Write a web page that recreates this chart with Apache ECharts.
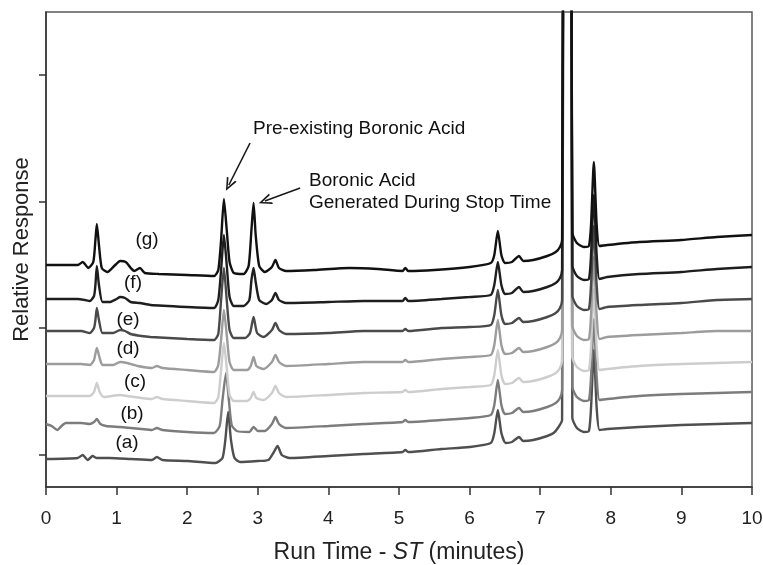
<!DOCTYPE html>
<html>
<head>
<meta charset="utf-8">
<script src="https://cdn.jsdelivr.net/npm/echarts@6/dist/echarts.min.js"></script>
<style>
html, body { margin: 0; padding: 0; background: #fff; }
#chart { width: 763px; height: 565px; }
</style>
</head>
<body>
<div id="chart"></div>
<script>
// run time (min) vs relative response (arbitrary units, traces stacked with offsets)
var traceA = [[0,28],[0.45,29],[0.52,32],[0.59,27],[0.66,31],[0.72,29],[0.9,29],[1.2,28],[1.5,27],[1.57,30],[1.65,27],[2.0,26],[2.4,24],[2.5,29],[2.54,47],[2.58,75],[2.62,47],[2.67,29],[2.75,25],[3.0,26],[3.15,27],[3.22,34],[3.28,41],[3.34,32],[3.45,29],[4.0,31],[4.5,33],[5.05,35],[5.09,37],[5.13,35],[5.6,38],[6.0,40],[6.3,44],[6.35,54],[6.4,77],[6.45,54],[6.51,44],[6.6,45],[6.7,50],[6.76,46],[6.9,47],[7.1,51],[7.19,54],[7.26,60],[7.31,67],[7.33,700],[7.385,1400],[7.44,700],[7.455,69],[7.52,59],[7.62,55],[7.69,56],[7.72,79],[7.76,137],[7.8,79],[7.84,57],[7.95,58],[8.4,60],[9.0,62],[9.5,63],[10,64]];
var traceB = [[0,63],[0.08,61],[0.16,57],[0.22,61],[0.28,64],[0.5,64],[0.62,63],[0.68,65],[0.72,68],[0.77,63],[0.85,61],[1.05,60],[1.35,58],[1.5,57],[1.57,59],[1.65,57],[2.0,55],[2.38,54],[2.46,61],[2.5,87],[2.55,114],[2.59,87],[2.63,62],[2.7,56],[2.88,55],[2.94,60],[3.0,56],[3.1,56],[3.2,63],[3.25,70],[3.3,63],[3.4,59],[4.0,61],[4.5,63],[5.05,65],[5.09,67],[5.13,65],[5.6,67],[6.0,69],[6.3,72],[6.35,82],[6.4,107],[6.45,82],[6.5,73],[6.6,74],[6.7,79],[6.76,75],[6.9,76],[7.1,80],[7.22,84],[7.28,89],[7.31,97],[7.33,700],[7.385,1400],[7.44,700],[7.455,100],[7.52,90],[7.62,86],[7.69,87],[7.72,110],[7.76,168],[7.8,110],[7.84,87],[7.95,88],[8.4,91],[9.0,93],[9.5,94],[10,95]];
var traceC = [[0,91],[0.5,91],[0.62,91],[0.68,95],[0.72,104],[0.76,95],[0.82,90],[1.05,92],[1.15,91],[1.35,89],[1.5,88],[1.57,90],[1.65,88],[2.0,86],[2.38,84],[2.44,90],[2.48,117],[2.52,144],[2.56,119],[2.6,92],[2.66,86],[2.85,86],[2.9,89],[2.94,95],[2.98,89],[3.08,87],[3.2,94],[3.25,101],[3.3,94],[3.4,90],[4.0,92],[4.5,94],[5.05,95],[5.09,97],[5.13,95],[5.6,98],[6.0,100],[6.3,102],[6.35,112],[6.4,137],[6.45,112],[6.5,103],[6.6,104],[6.7,109],[6.76,105],[6.9,106],[7.1,110],[7.22,114],[7.28,119],[7.31,127],[7.33,700],[7.385,1400],[7.44,700],[7.455,130],[7.52,120],[7.62,116],[7.69,117],[7.72,140],[7.76,198],[7.8,140],[7.84,117],[7.95,118],[8.4,121],[9.0,123],[9.5,124],[10,125]];
var traceD = [[0,123],[0.5,123],[0.62,122],[0.68,127],[0.72,139],[0.76,129],[0.8,122],[0.95,122],[1.05,125],[1.15,124],[1.3,121],[1.5,119],[1.57,121],[1.65,119],[2.0,117],[2.38,115],[2.44,122],[2.48,147],[2.52,177],[2.56,152],[2.6,125],[2.66,117],[2.85,117],[2.9,121],[2.94,130],[2.98,121],[3.08,118],[3.2,125],[3.25,132],[3.3,125],[3.4,121],[4.0,123],[4.5,125],[5.05,125],[5.09,127],[5.13,125],[5.6,128],[6.0,130],[6.3,132],[6.35,142],[6.4,167],[6.45,142],[6.5,133],[6.6,134],[6.7,139],[6.76,135],[6.9,136],[7.1,140],[7.22,144],[7.28,149],[7.31,157],[7.33,700],[7.385,1400],[7.44,700],[7.455,161],[7.52,151],[7.62,147],[7.69,148],[7.72,172],[7.76,230],[7.8,172],[7.84,148],[7.95,150],[8.4,152],[9.0,154],[9.5,156],[10,156]];
var traceE = [[0,156],[0.5,156],[0.62,154],[0.68,159],[0.7,167],[0.72,179],[0.75,167],[0.8,154],[0.95,154],[1.05,157],[1.12,156],[1.2,153],[1.35,151],[1.48,150],[2.0,148],[2.38,147],[2.44,153],[2.48,187],[2.52,219],[2.56,187],[2.6,157],[2.66,149],[2.82,149],[2.89,154],[2.94,170],[2.99,154],[3.08,150],[3.2,157],[3.25,164],[3.3,157],[3.4,153],[4.0,154],[4.5,156],[5.05,156],[5.09,158],[5.13,156],[5.6,159],[6.0,160],[6.3,162],[6.35,172],[6.4,197],[6.45,172],[6.5,163],[6.6,164],[6.7,169],[6.76,165],[6.9,166],[7.1,170],[7.22,174],[7.28,179],[7.31,187],[7.33,700],[7.385,1400],[7.44,700],[7.455,191],[7.52,181],[7.62,177],[7.69,178],[7.72,202],[7.76,261],[7.8,202],[7.84,178],[7.95,180],[8.4,182],[9.0,184],[9.5,187],[10,188]];
var traceF = [[0,188],[0.45,188],[0.55,187],[0.62,186],[0.68,191],[0.7,202],[0.72,221],[0.75,202],[0.8,185],[0.9,185],[1.0,188],[1.05,190],[1.12,189],[1.2,185],[1.33,184],[1.48,182],[2.0,180],[2.38,179],[2.44,187],[2.48,217],[2.52,252],[2.56,222],[2.6,190],[2.66,181],[2.8,181],[2.88,187],[2.91,207],[2.94,219],[2.97,205],[3.02,187],[3.12,183],[3.2,187],[3.25,194],[3.3,187],[3.4,184],[4.0,185],[4.5,186],[5.05,186],[5.09,189],[5.13,186],[5.6,188],[6.0,190],[6.3,192],[6.35,202],[6.4,225],[6.45,202],[6.5,193],[6.6,194],[6.7,200],[6.76,195],[6.9,196],[7.1,200],[7.22,204],[7.28,209],[7.31,217],[7.33,700],[7.385,1400],[7.44,700],[7.455,221],[7.52,211],[7.62,207],[7.69,208],[7.72,232],[7.76,292],[7.8,232],[7.84,208],[7.95,210],[8.4,213],[9.0,215],[9.5,218],[10,220]];
var traceG = [[0,222],[0.45,222],[0.52,225],[0.6,219],[0.67,225],[0.7,247],[0.72,263],[0.75,242],[0.79,219],[0.87,215],[0.98,222],[1.05,226],[1.13,225],[1.2,219],[1.25,216],[1.33,219],[1.4,214],[1.6,213],[2.0,212],[2.38,211],[2.44,217],[2.48,247],[2.52,288],[2.56,257],[2.6,225],[2.66,214],[2.8,213],[2.87,221],[2.91,257],[2.94,284],[2.97,252],[3.02,221],[3.1,215],[3.2,220],[3.25,227],[3.3,219],[3.4,216],[3.8,217],[4.3,219],[4.7,218],[5.05,216],[5.09,219],[5.13,216],[5.5,217],[6.0,220],[6.3,224],[6.35,232],[6.4,256],[6.45,232],[6.5,224],[6.6,225],[6.7,231],[6.76,226],[6.9,227],[7.1,231],[7.22,235],[7.28,240],[7.31,247],[7.33,700],[7.385,1400],[7.44,700],[7.455,254],[7.52,244],[7.62,240],[7.69,241],[7.72,262],[7.76,325],[7.8,262],[7.84,241],[7.95,242],[8.4,245],[9.0,247],[9.5,250],[10,252]];

var traces = [traceA, traceB, traceC, traceD, traceE, traceF, traceG];
var traceNames = ['(a)', '(b)', '(c)', '(d)', '(e)', '(f)', '(g)'];
var traceColors = ['#4f4f4f', '#7c7c7c', '#cdcdcd', '#9c9c9c', '#4a4a4a', '#1e1e1e', '#111111'];
var xTicks = [0, 1, 2, 3, 4, 5, 6, 7, 8, 9, 10];
var yTicks = [32, 159, 285, 412];

var FONT = '"Liberation Sans", Arial, Helvetica, sans-serif';
var chart = echarts.init(document.getElementById('chart'));

var series = traces.map(function (d, i) {
    return {
        name: traceNames[i],
        type: 'line',
        data: d,
        showSymbol: false,
        smooth: 0.2,
        clip: true,
        lineStyle: { color: traceColors[i], width: 2.4 },
        z: 2 + i
    };
});

// arrows pointing at the two boronic acid peaks
series[6].markLine = {
    silent: true,
    symbol: ['none', 'path://M5,0 L10,12 L8.3,12 L5,3.6 L1.7,12 L0,12 Z'],
    symbolSize: [11, 13],
    label: { show: false },
    lineStyle: { color: '#1a1a1a', width: 1.6, type: 'solid' },
    data: [
        [{ coord: [2.89, 344] }, { coord: [2.59, 302] }],
        [{ coord: [3.60, 299] }, { coord: [3.10, 286] }]
    ]
};

var labelPos = [[127, 443], [132, 414], [135, 382], [128, 349], [128, 320], [133, 283], [147, 240]];

var graphics = traceNames.map(function (n, i) {
    return {
        type: 'text',
        x: labelPos[i][0],
        y: labelPos[i][1],
        style: {
            text: n, fill: '#111', font: '19px ' + FONT,
            align: 'center', verticalAlign: 'middle'
        }
    };
});
graphics.push({
    type: 'text', x: 253, y: 129,
    style: { text: 'Pre-existing Boronic Acid', fill: '#111', font: '19px ' + FONT, align: 'left', verticalAlign: 'middle' }
});
graphics.push({
    type: 'text', x: 309, y: 181,
    style: { text: 'Boronic Acid', fill: '#111', font: '19px ' + FONT, align: 'left', verticalAlign: 'middle' }
});
graphics.push({
    type: 'text', x: 309, y: 203,
    style: { text: 'Generated During Stop Time', fill: '#111', font: '19px ' + FONT, align: 'left', verticalAlign: 'middle' }
});

var option = {
    animation: false,
    backgroundColor: '#ffffff',
    textStyle: { fontFamily: FONT },
    grid: {
        left: 46, right: 11, top: 12, bottom: 78,
        show: true, borderColor: '#5a5a5a', borderWidth: 1.5,
        outerBoundsMode: 'none'
    },
    xAxis: {
        type: 'value',
        min: 0, max: 10, interval: 1,
        name: '{a|Run Time - }{i|ST}{a| (minutes)}',
        nameLocation: 'middle',
        nameGap: 54,
        nameTextStyle: {
            rich: {
                a: { fontSize: 23, color: '#222', fontFamily: FONT },
                i: { fontSize: 23, color: '#222', fontFamily: FONT, fontStyle: 'italic' }
            }
        },
        axisLine: { show: true, lineStyle: { color: '#333', width: 1.5 } },
        axisTick: { show: true, inside: false, length: 8, lineStyle: { color: '#333', width: 1.5 } },
        axisLabel: {
            show: true, fontSize: 19, color: '#222', margin: 22,
            customValues: xTicks
        },
        splitLine: { show: false }
    },
    yAxis: {
        type: 'value',
        min: 0, max: 475,
        name: 'Relative Response',
        nameLocation: 'middle',
        nameGap: 13,
        nameTextStyle: { fontSize: 22, color: '#222' },
        axisLine: { show: true, lineStyle: { color: '#333', width: 1.5 } },
        axisTick: { show: true, inside: false, length: 7, lineStyle: { color: '#333', width: 1.5 }, customValues: yTicks },
        axisLabel: { show: false },
        splitLine: { show: false }
    },
    graphic: graphics,
    series: series
};
chart.setOption(option);
</script>
</body>
</html>
